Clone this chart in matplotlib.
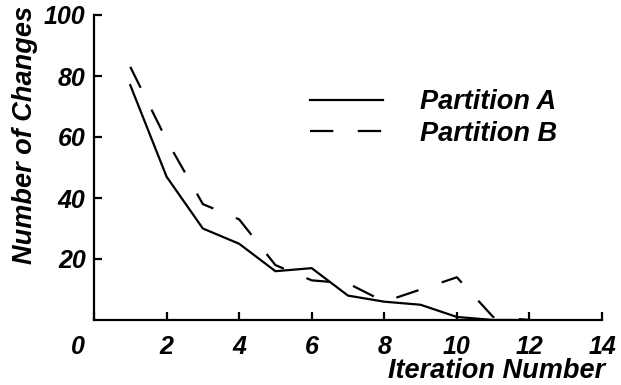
import matplotlib
matplotlib.use('Agg')
import matplotlib.pyplot as plt
import matplotlib.transforms as mtransforms

# --- data ---
iterations = [1, 2, 3, 4, 5, 6, 7, 8, 9, 10, 11, 12]
partition_a = [77, 47, 30, 25, 16, 17, 8, 6, 5, 1, 0, 0]
partition_b = [83, 59, 38, 33, 18, 13, 12, 6, 10, 14, 1, 0]
x_ticks = [0, 2, 4, 6, 8, 10, 12, 14]
y_ticks = [20, 40, 60, 80, 100]

plt.rcParams['font.family'] = ['Liberation Sans', 'DejaVu Sans']
plt.rcParams['font.weight'] = 'bold'
plt.rcParams['font.style'] = 'italic'

fig = plt.figure(figsize=(6.21, 3.85), dpi=100)
ax = fig.add_axes([94 / 621, 1 - 320 / 385, (602 - 94) / 621, (320 - 15) / 385])

ax.plot(iterations, partition_a, color='black', lw=1.6, label='Partition A')
lb, = ax.plot(iterations, partition_b, color='black', lw=1.6, label='Partition B')
lb.set_dashes((10.5, 11))

ax.set_xlim(0, 14)
ax.set_ylim(0, 100)
ax.set_xticks(x_ticks)
ax.set_yticks(y_ticks)
ax.set_xticklabels([str(v) for v in x_ticks])
ax.set_yticklabels([str(v) for v in y_ticks])

for s in ['top', 'right']:
    ax.spines[s].set_visible(False)
for s in ['left', 'bottom']:
    ax.spines[s].set_linewidth(1.6)

ax.tick_params(axis='both', direction='in', length=6, width=1.6, labelsize=18)
ax.tick_params(axis='x', pad=11)
ax.tick_params(axis='y', pad=6)

# label "0" sits left of the axis corner
lab0 = ax.get_xticklabels()[0]
lab0.set_transform(lab0.get_transform() + mtransforms.ScaledTranslation(-16 / 100, 0, fig.dpi_scale_trans))

fig.text(25 / 621, 1 - 135 / 385, 'Number of Changes', rotation=90, ha='center', va='center', fontsize=19.5)
fig.text(605 / 621, 1 - 371 / 385, 'Iteration Number', ha='right', va='center', fontsize=19.5)

leg = ax.legend(loc='upper left', bbox_to_anchor=(310 / 621, 1 - 89 / 385), bbox_transform=fig.transFigure,
                frameon=False, fontsize=19.5, handlelength=2.7, handletextpad=1.36, labelspacing=0.22,
                borderpad=0, borderaxespad=0)

fig.savefig('out.png', dpi=100)
